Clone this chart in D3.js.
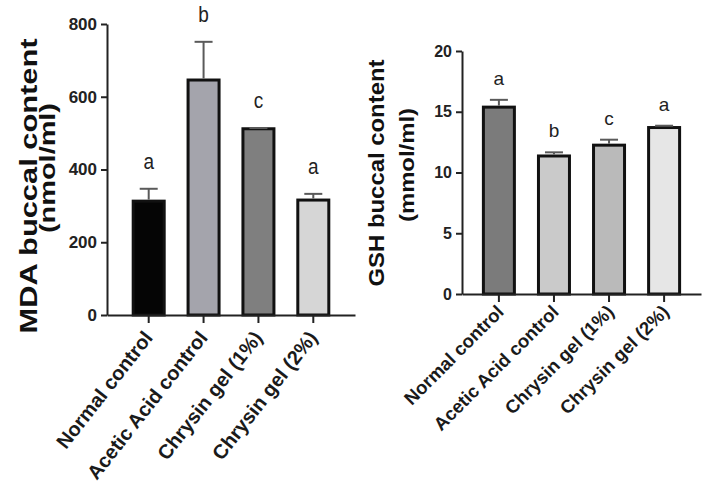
<!DOCTYPE html>
<html>
<head>
<meta charset="utf-8">
<script src="https://cdn.jsdelivr.net/npm/d3@7"></script>
<style>
  body { margin: 0; background: #fff; }
  svg { display: block; font-family: Arial, "Liberation Sans", sans-serif; }
</style>
</head>
<body>
<svg id="chart" width="702" height="497"></svg>
<script>
// groups on the x axis (same for both panels)
var categories = ['Normal control', 'Acetic Acid control', 'Chrysin gel (1%)', 'Chrysin gel (2%)']

// MDA panel
var mdaMeans = [313, 646, 512, 316]
var mdaErrors = [34, 105, 2, 17]
var mdaLetters = ['a', 'b', 'c', 'a']
var mdaTicks = [0, 200, 400, 600, 800]
var mdaColors = ['#050505', '#a4a4ac', '#7f7f7f', '#d6d6d6']

// GSH panel
var gshMeans = [15.38, 11.36, 12.25, 13.7]
var gshErrors = [0.6, 0.3, 0.45, 0.15]
var gshLetters = ['a', 'b', 'c', 'a']
var gshTicks = [0, 5, 10, 15, 20]
var gshColors = ['#7b7b7b', '#cacaca', '#bababa', '#e6e6e6']

var svg = d3.select('#chart')

var drawPanel = (p) => {
  var x = d3.scaleBand().domain(categories)
    .range([p.left, p.right])
    .paddingInner(0.38)
    .paddingOuter(p.padOuter)
  var y = d3.scaleLinear().domain([0, d3.max(p.ticks)]).range([p.bottom, p.top])
  var bw = 31

  var g = svg.append('g')

  // bars
  g.selectAll('rect.bar')
    .data(p.means)
    .enter()
    .append('rect')
    .attr('class', 'bar')
    .attr('x', (d, i) => x(categories[i]) + x.bandwidth() / 2 - bw / 2)
    .attr('y', (d) => y(d))
    .attr('width', bw)
    .attr('height', (d) => y(0) - y(d))
    .attr('fill', (d, i) => p.colors[i])
    .attr('stroke', '#111')
    .attr('stroke-width', 3)

  // error bars (upper only)
  var err = g.selectAll('g.err')
    .data(p.means)
    .enter()
    .append('g')
    .attr('class', 'err')
    .attr('stroke', '#5a5a5a')
    .attr('stroke-width', 2)
  err.append('line')
    .attr('x1', (d, i) => x(categories[i]) + x.bandwidth() / 2)
    .attr('x2', (d, i) => x(categories[i]) + x.bandwidth() / 2)
    .attr('y1', (d) => y(d) - 1.5)
    .attr('y2', (d, i) => y(d + p.errors[i]))
  err.append('line')
    .attr('x1', (d, i) => x(categories[i]) + x.bandwidth() / 2 - 9)
    .attr('x2', (d, i) => x(categories[i]) + x.bandwidth() / 2 + 9)
    .attr('y1', (d, i) => y(d + p.errors[i]))
    .attr('y2', (d, i) => y(d + p.errors[i]))

  // significance letters
  g.selectAll('text.sig')
    .data(p.letters)
    .enter()
    .append('text')
    .attr('class', 'sig')
    .attr('text-anchor', 'middle')
    .attr('font-size', p.sigSize)
    .attr('fill', '#222')
    .attr('transform', (d, i) => `translate(${x(categories[i]) + x.bandwidth() / 2}, ${y(p.means[i] + p.errors[i]) - p.sigGap}) scale(1, ${p.stretch})`)
    .text((d) => d)

  // y axis
  var yAxis = g.append('g')
    .attr('transform', `translate(${p.left}, 0)`)
    .call(d3.axisLeft(y).tickValues(p.ticks).tickSize(6).tickSizeOuter(0).tickPadding(4))
  yAxis.select('.domain').attr('stroke', '#222').attr('stroke-width', 2)
  yAxis.selectAll('.tick line').attr('stroke', '#222').attr('stroke-width', 2)
  yAxis.selectAll('.tick text')
    .attr('font-size', p.tickSize)
    .attr('font-weight', 'bold')
    .attr('fill', '#222')
    .attr('font-family', 'Arial, "Liberation Sans", sans-serif')

  // x axis
  var xAxis = g.append('g')
    .attr('transform', `translate(0, ${p.bottom})`)
    .call(d3.axisBottom(x).tickSize(8).tickSizeOuter(0).tickFormat(''))
  xAxis.select('.domain').attr('stroke', '#222').attr('stroke-width', 2)
  xAxis.selectAll('.tick line').attr('stroke', '#222').attr('stroke-width', 2)

  g.selectAll('text.cat')
    .data(categories)
    .enter()
    .append('text')
    .attr('class', 'cat')
    .attr('text-anchor', 'end')
    .attr('font-size', p.labSize)
    .attr('font-weight', 'bold')
    .attr('fill', '#1a1a1a')
    .attr('transform', (d) => `translate(${x(d) + x.bandwidth() / 2 + p.labDx}, ${p.bottom + p.labDy}) rotate(${p.labAngle})`)
    .text((d) => d)

  // axis title, two lines
  g.append('text')
    .attr('text-anchor', 'middle')
    .attr('font-weight', 'bold')
    .attr('font-size', p.titleSize)
    .attr('fill', '#111')
    .attr('transform', `translate(${p.titleX}, ${p.titleY}) rotate(-90)`)
    .attr('textLength', p.titleLen)
    .attr('lengthAdjust', 'spacingAndGlyphs')
    .text(p.title)
  g.append('text')
    .attr('text-anchor', 'middle')
    .attr('font-weight', 'bold')
    .attr('font-size', p.unitSize)
    .attr('fill', '#111')
    .attr('transform', `translate(${p.unitX}, ${p.unitY}) rotate(-90)`)
    .attr('textLength', p.unitLen)
    .attr('lengthAdjust', 'spacingAndGlyphs')
    .text(p.unit)
}

drawPanel({
  means: mdaMeans, errors: mdaErrors, letters: mdaLetters, ticks: mdaTicks, colors: mdaColors,
  left: 107, right: 355, padOuter: 0.45, top: 24, bottom: 315,
  stretch: 1.2, sigGap: 20, sigSize: 19, tickSize: 17,
  labDx: 5, labDy: 23, labAngle: -52, labSize: 20,
  title: 'MDA buccal content', titleX: 37, titleY: 186, titleSize: 23, titleLen: 295,
  unit: '(nmol/ml)', unitX: 55, unitY: 168, unitSize: 22, unitLen: 130
})

drawPanel({
  means: gshMeans, errors: gshErrors, letters: gshLetters, ticks: gshTicks, colors: gshColors,
  left: 462, right: 701, padOuter: 0.36, top: 51, bottom: 294,
  stretch: 1, sigGap: 15, sigSize: 19, tickSize: 16,
  labDx: 6, labDy: 19, labAngle: -45, labSize: 18.5,
  title: 'GSH buccal content', titleX: 384, titleY: 173, titleSize: 22, titleLen: 227,
  unit: '(mmol/ml)', unitX: 414, unitY: 165, unitSize: 20, unitLen: 114
})
</script>
</body>
</html>
